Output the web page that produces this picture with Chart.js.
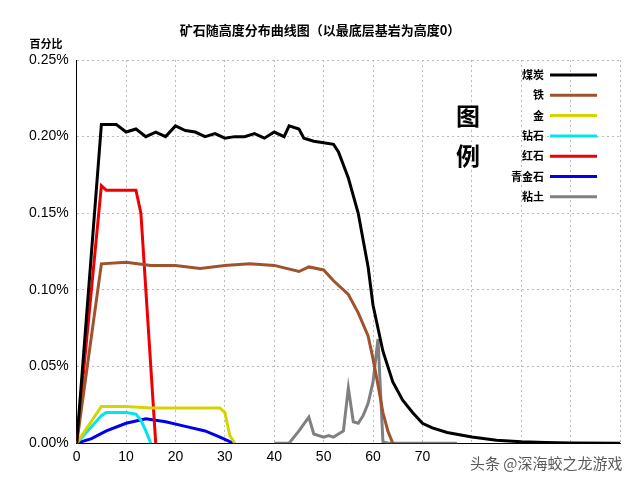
<!DOCTYPE html><html><head><meta charset="utf-8">
<script src="https://cdn.jsdelivr.net/npm/chart.js@4/dist/chart.umd.min.js"></script>
<style>body{margin:0;background:#fff}#w{width:640px;height:486px}</style></head><body><div id="w"><canvas id="c"></canvas></div>
<script>
const names=['煤炭','铁','金','钻石','红石','青金石','粘土'];
const colors=['#000000','#a0522d','#d4d400','#00e5ee','#ee0000','#0000ee','#808080'];
const coal=[[0,0],[5,.208],[8,.208],[10,.203],[12,.205],[14,.2],[16,.203],[18,.2],[20,.207],[22,.204],[24,.203],[26,.2],[28,.202],[30,.199],[32,.2],[34,.2],[36,.202],[38,.199],[40,.203],[42,.2],[43,.207],[45,.205],[46,.199],[48,.197],[50,.196],[52,.195],[53,.19],[55,.173],[57,.15],[59,.115],[60,.09],[62,.06],[64,.04],[66,.028],[68,.02],[70,.013],[72,.01],[75,.007],[80,.004],[85,.002],[90,.001],[95,.0005],[100,.0002],[110,0]];
const iron=[[0,0],[5,.117],[10,.118],[15,.116],[20,.116],[25,.114],[30,.116],[35,.117],[40,.116],[45,.112],[47,.115],[50,.113],[52,.106],[55,.097],[57,.085],[59,.07],[60,.055],[61,.038],[62,.02],[63,.008],[64,0]];
const gold=[[0,0],[5,.024],[10,.024],[15,.023],[20,.023],[25,.023],[29,.023],[30,.02],[31,.005],[32,0]];
const diamond=[[0,0],[5,.018],[6,.02],[10,.02],[12,.019],[13,.015],[14,.008],[15,0]];
const redstone=[[0,0],[5,.168],[6,.165],[12,.165],[13,.15],[14,.1],[15,.05],[16,0]];
const lapis=[[0,0],[3,.003],[6,.008],[10,.013],[14,.016],[18,.014],[22,.011],[26,.008],[29,.004],[31,.001],[32,0]];
const clay=[[40,0],[43,0],[45,.008],[47,.017],[48,.006],[50,.004],[51,.005],[52,.004],[54,.008],[55,.036],[56,.014],[57,.013],[58,.018],[59,.026],[60,.04],[61,.068],[62,.001],[63,0],[77,0]];
const series=[coal,iron,gold,diamond,redstone,lapis,clay];
const F='"Noto Sans CJK SC"';
const deco={id:'deco',afterDraw(c){const x=c.ctx;x.save();
x.fillStyle='#000';x.textBaseline='middle';
x.font='bold 13px '+F;x.textAlign='center';x.fillText('矿石随高度分布曲线图（以最底层基岩为高度0）',320,30);
x.font='bold 11px '+F;x.fillText('百分比',46,44);
x.font='bold 24px '+F;x.fillText('图',468,116);x.fillText('例',468,156);
c.data.datasets.forEach((d,i)=>{const y=75+i*20.3;x.font='bold 11px '+F;x.textAlign='right';x.fillStyle='#000';x.fillText(d.label,544,y);
x.strokeStyle=d.borderColor;x.lineWidth=3;x.beginPath();x.moveTo(550,y);x.lineTo(597,y);x.stroke();});
x.font='15px '+F;x.textAlign='left';x.fillStyle='rgba(60,60,60,0.85)';x.fillText('头条 @深海蛟之龙游戏',470,463);
x.restore();}};
new Chart(document.getElementById('c'),{type:'line',
data:{datasets:series.map((s,i)=>({label:names[i],data:s.map(p=>({x:p[0],y:p[1]})),borderColor:colors[i],borderWidth:3,pointRadius:0,tension:0}))},
options:{animation:false,responsive:true,maintainAspectRatio:false,
layout:{padding:{top:60,right:20,bottom:14,left:21}},
plugins:{legend:{display:false},tooltip:{enabled:false}},
scales:{x:{type:'linear',min:0,max:110,ticks:{stepSize:10,color:'#000',padding:6,font:{size:14,family:'Arial'},callback:v=>v<=70?v:''},
grid:{color:'#bbb',drawTicks:false},border:{color:'#000',dash:[2,3]}},
y:{min:0,max:0.25,ticks:{stepSize:0.05,color:'#000',padding:8,font:{size:14,family:'Arial'},callback:v=>v.toFixed(2)+'%'},
grid:{color:'#bbb',drawTicks:false},border:{color:'#000',dash:[2,3]}}}},plugins:[deco]});
</script></body></html>
